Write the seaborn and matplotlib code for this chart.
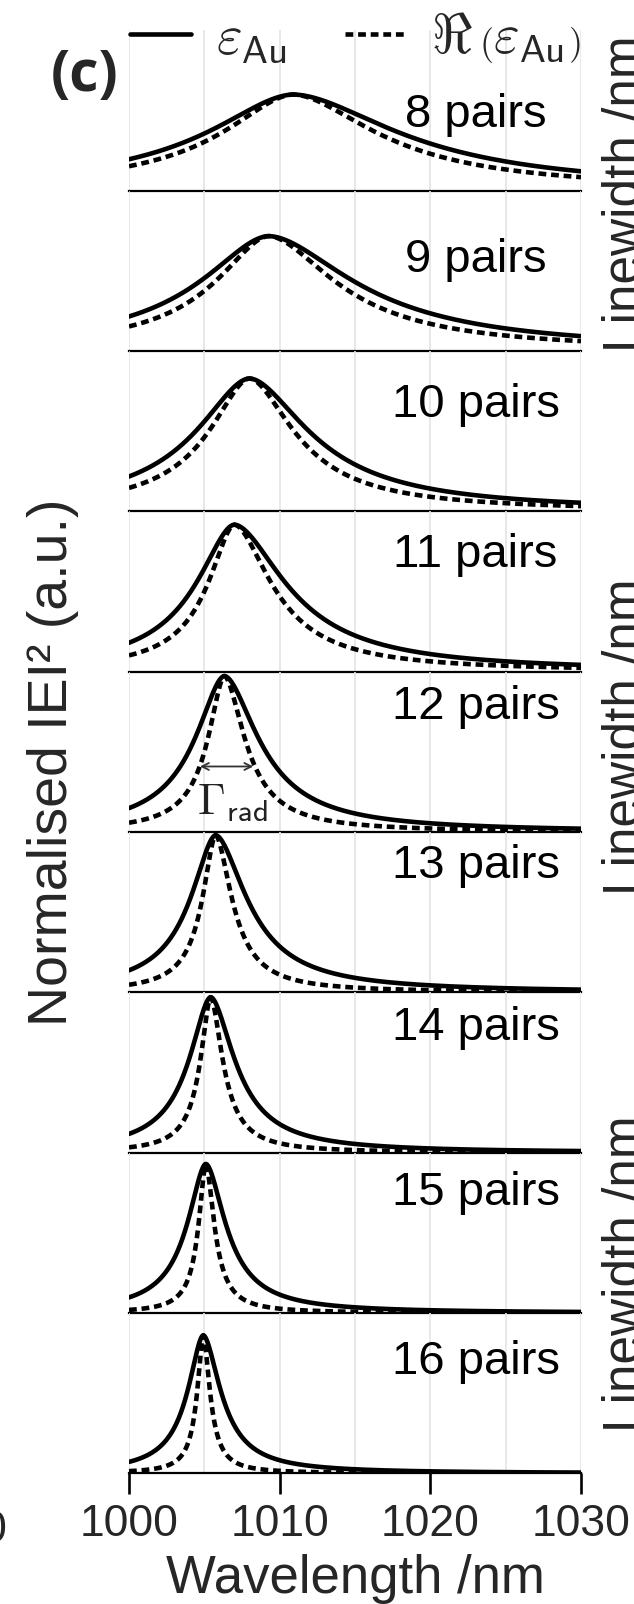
import numpy as np
import pandas as pd
import matplotlib
matplotlib.use("Agg")
import matplotlib.pyplot as plt
from matplotlib.lines import Line2D
import seaborn as sns

# ---- resonance data for each DBR length ----
pairs = [8, 9, 10, 11, 12, 13, 14, 15, 16]
peak_nm = [1010.9, 1009.27, 1007.99, 1006.99, 1006.33, 1005.75, 1005.42, 1005.10, 1004.93]
peak_height = [0.600, 0.717, 0.829, 0.917, 0.973, 0.980, 0.970, 0.930, 0.861]
# half widths (nm) on the short / long wavelength side, full complex eps_Au
full_hw_blue = [7.3, 5.8, 4.5, 3.2, 2.45, 2.1, 1.8, 1.55, 1.3]
full_hw_red = [8.9, 7.2, 5.0, 4.3, 2.85, 2.6, 2.0, 1.65, 1.45]
# half widths (nm) with only the real part of eps_Au
real_hw_blue = [6.0, 4.5, 3.4, 2.2, 1.37, 1.1, 0.85, 0.6, 0.5]
real_hw_red = [7.0, 5.6, 3.75, 3.1, 1.7, 1.35, 1.0, 0.7, 0.55]
shape_exp = 1.8
x_ticks = [1000, 1010, 1020, 1030]
x_grid = [1000, 1005, 1010, 1015, 1020, 1025, 1030]
pair_labels = [f"{n} pairs" for n in pairs]

# ---- layout (figure pixels) ----
W, H = 634, 1604
ax_left, ax_right = 129, 581
panel_top, panel_h = 30.4, 160.33
label_y = [0.395, 0.493, 0.588, 0.652, 0.703, 0.716, 0.705, 0.672, 0.619]
LW = 3.3
DASH = (1.7, 1.05)

sns.set_theme(style="white")
plt.rcParams["font.family"] = ["Liberation Sans", "DejaVu Sans"]
plt.rcParams["mathtext.fontset"] = "cm"
plt.rcParams["axes.edgecolor"] = "black"

fig = plt.figure(figsize=(W / 100, H / 100), dpi=100)
fig.patch.set_facecolor("white")

lam = np.linspace(1000, 1030, 1501)


def lineshape(x, x0, h, g_blue, g_red):
    g = np.where(x < x0, g_blue, g_red)
    return h / (1.0 + np.abs((x - x0) / g) ** shape_exp)


axes = []
for i, n in enumerate(pairs):
    top = panel_top + i * panel_h
    rect = [ax_left / W, 1 - (top + panel_h) / H, (ax_right - ax_left) / W, panel_h / H]
    ax = fig.add_axes(rect)
    axes.append(ax)

    df = pd.concat([
        pd.DataFrame({"wavelength": lam,
                      "intensity": lineshape(lam, peak_nm[i], peak_height[i],
                                             full_hw_blue[i], full_hw_red[i]),
                      "model": "full"}),
        pd.DataFrame({"wavelength": lam,
                      "intensity": lineshape(lam, peak_nm[i], peak_height[i],
                                             real_hw_blue[i], real_hw_red[i]),
                      "model": "real"}),
    ])
    sns.lineplot(data=df, x="wavelength", y="intensity", style="model",
                 style_order=["full", "real"],
                 dashes={"full": "", "real": DASH},
                 color="black", lw=LW, estimator=None, legend=False, ax=ax)

    ax.set_xlim(1000, 1030)
    ax.set_ylim(0, 1)
    ax.set_xlabel("")
    ax.set_ylabel("")
    ax.set_yticks([])
    ax.set_xticks(x_ticks)
    ax.set_xticks(x_grid, minor=True)
    ax.set_axisbelow(True)
    ax.grid(True, which="both", axis="x", color="#e4e4e4", lw=1.2)
    ax.grid(False, axis="y")
    for side in ("left", "right", "top"):
        ax.spines[side].set_visible(False)
    ax.spines["bottom"].set_linewidth(1.6)
    ax.spines["bottom"].set_color("black")
    ax.set_facecolor("none")

    ax.text(1023.0, label_y[i], pair_labels[i], ha="center", va="baseline",
            fontsize=34, color="black")

    if i == len(pairs) - 1:
        ax.tick_params(axis="x", which="major", direction="out", length=15,
                       width=1.9, color="black", pad=7, labelsize=32,
                       bottom=True, labelbottom=True)
        ax.tick_params(axis="x", which="minor", length=0)
    else:
        ax.tick_params(axis="x", which="both", length=0, labelbottom=False)

# radiative linewidth marker on the 12-pair panel
ax12 = axes[pairs.index(12)]
ax12.annotate("", xy=(1004.71, 0.409), xytext=(1008.25, 0.409),
              arrowprops=dict(arrowstyle="<->,head_length=0.5,head_width=0.25",
                              color="#333333", lw=1.3, shrinkA=0, shrinkB=0,
                              mutation_scale=10))
ax12.text(1004.5, 0.118, r"$\Gamma_{\mathsf{rad}}$", ha="left", va="baseline",
          fontsize=32, color="#222222")

# legend across the top
handles = [Line2D([], [], color="black", lw=LW),
           Line2D([], [], color="black", lw=LW, dashes=DASH)]
fig.legend(handles, [r"$\varepsilon_{\mathsf{Au}}$",
                     r"$\Re\,\left(\varepsilon_{\mathsf{Au}}\right)$"],
           loc="center left", bbox_to_anchor=(130 / W, 1 - 38 / H), ncol=2,
           frameon=False, fontsize=40, handlelength=1.1, handletextpad=0.45,
           columnspacing=1.05, borderpad=0, borderaxespad=0)

# panel tag and axis titles
fig.text(84.5 / W, 1 - 75.5 / H, "(c)", fontfamily="Open Sans",
         fontweight="bold", fontsize=41, ha="center", va="center")
fig.text(53 / W, 0.525, "Normalised IEI² (a.u.)", rotation=90,
         ha="center", va="center", fontsize=40)
fig.text((ax_left + ax_right) / 2 / W, (H - 1593) / H, "Wavelength /nm",
         ha="center", va="baseline", fontsize=38)

# neighbouring panels at the edges
fig.text(8 / W, (H - 1542) / H, "1030", ha="right", va="baseline", fontsize=32)
for yc in (0.879, 0.541, 0.206):
    fig.text(640 / W, yc, "Linewidth /nm", rotation=90, rotation_mode="anchor",
             ha="center", va="baseline", fontsize=37)

fig.savefig("out.png", dpi=100, facecolor="white")
